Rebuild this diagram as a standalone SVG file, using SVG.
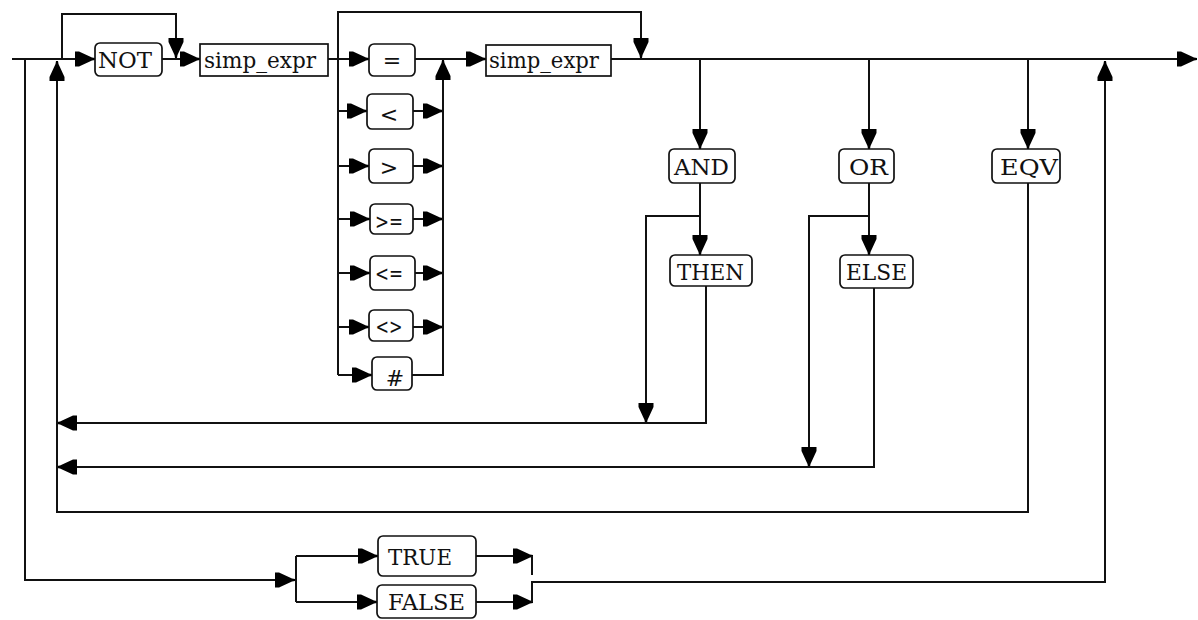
<svg xmlns="http://www.w3.org/2000/svg" width="1198" height="620" viewBox="0 0 1198 620">
<style>
.ln{fill:none;stroke:#111;stroke-width:2}
.bx{fill:#fff;stroke:#111;stroke-width:1.7}
.t{font-family:"DejaVu Serif","Liberation Serif",serif;font-size:23px;fill:#111}
.op{font-family:"DejaVu Sans","Liberation Sans",sans-serif;font-size:22px;fill:#111;text-anchor:middle}
</style>
<defs>
<marker id="ar" markerUnits="userSpaceOnUse" markerWidth="24" markerHeight="18" viewBox="-22 -9 24 18" refX="0" refY="0" orient="auto">
<path d="M-20,-7.5 H-16 L-3,-1.5 L0,-1 V1 L-3,1.5 L-16,7.5 H-20 Z" fill="#000"/>
</marker>
</defs>
<rect width="1198" height="620" fill="#fff"/>
<g id="connectors">
<path class="ln" d="M12,59 H95" marker-end="url(#ar)"/>
<path class="ln" d="M62,59 V14 H176 V58" marker-end="url(#ar)"/>
<path class="ln" d="M162,59 H200" marker-end="url(#ar)"/>
<path class="ln" d="M328,59 H369" marker-end="url(#ar)"/>
<path class="ln" d="M338,375 V12 H641 V58" marker-end="url(#ar)"/>
<path class="ln" d="M338,111 H367" marker-end="url(#ar)"/>
<path class="ln" d="M413,111 H443" marker-end="url(#ar)"/>
<path class="ln" d="M338,166 H369" marker-end="url(#ar)"/>
<path class="ln" d="M413,166 H443" marker-end="url(#ar)"/>
<path class="ln" d="M338,219 H370" marker-end="url(#ar)"/>
<path class="ln" d="M413,219 H443" marker-end="url(#ar)"/>
<path class="ln" d="M338,273 H370" marker-end="url(#ar)"/>
<path class="ln" d="M415,273 H443" marker-end="url(#ar)"/>
<path class="ln" d="M338,327 H369" marker-end="url(#ar)"/>
<path class="ln" d="M413,327 H443" marker-end="url(#ar)"/>
<path class="ln" d="M338,375 H372" marker-end="url(#ar)"/>
<path class="ln" d="M412,375 H443 V60" marker-end="url(#ar)"/>
<path class="ln" d="M415,59 H486" marker-end="url(#ar)"/>
<path class="ln" d="M611,59 H1197" marker-end="url(#ar)"/>
<path class="ln" d="M700,59 V149" marker-end="url(#ar)"/>
<path class="ln" d="M700,183 V255" marker-end="url(#ar)"/>
<path class="ln" d="M700,216 H646 V423" marker-end="url(#ar)"/>
<path class="ln" d="M706,285 V423 H57" marker-end="url(#ar)"/>
<path class="ln" d="M869,59 V149" marker-end="url(#ar)"/>
<path class="ln" d="M869,183 V255" marker-end="url(#ar)"/>
<path class="ln" d="M869,216 H809 V467" marker-end="url(#ar)"/>
<path class="ln" d="M874,288 V467 H57" marker-end="url(#ar)"/>
<path class="ln" d="M1028,59 V149" marker-end="url(#ar)"/>
<path class="ln" d="M1028,183 V512 H57 V61" marker-end="url(#ar)"/>
<path class="ln" d="M25,59 V580 H295" marker-end="url(#ar)"/>
<path class="ln" d="M296,556 V602"/>
<path class="ln" d="M296,556 H378" marker-end="url(#ar)"/>
<path class="ln" d="M296,602 H377" marker-end="url(#ar)"/>
<path class="ln" d="M476,556 H533" marker-end="url(#ar)"/>
<path class="ln" d="M532,556 V575"/>
<path class="ln" d="M476,602 H533" marker-end="url(#ar)"/>
<path class="ln" d="M532,602 V582 H1105 V61" marker-end="url(#ar)"/>
</g>
<g id="n-not"><rect class="bx" x="95" y="43" width="67" height="33" rx="5"/><text class="t" x="98" y="68" textLength="54" lengthAdjust="spacingAndGlyphs">NOT</text></g>
<g id="n-simp1"><rect class="bx" x="200" y="44" width="128" height="32"/><text class="t" x="204" y="68" textLength="112" lengthAdjust="spacingAndGlyphs">simp_expr</text></g>
<g id="n-eq"><rect class="bx" x="369" y="44" width="46" height="32" rx="5"/><text class="op" x="392" y="68">=</text></g>
<g id="n-lt"><rect class="bx" x="367" y="94" width="46" height="35" rx="5"/><text class="op" x="389" y="122">&lt;</text></g>
<g id="n-gt"><rect class="bx" x="369" y="149" width="44" height="34" rx="5"/><text class="op" x="389" y="175">&gt;</text></g>
<g id="n-ge"><rect class="bx" x="370" y="204" width="43" height="30" rx="5"/><text class="op" x="389" y="229" textLength="28" lengthAdjust="spacingAndGlyphs">&gt;=</text></g>
<g id="n-le"><rect class="bx" x="370" y="256" width="45" height="34" rx="5"/><text class="op" x="389" y="281" textLength="28" lengthAdjust="spacingAndGlyphs">&lt;=</text></g>
<g id="n-ne"><rect class="bx" x="369" y="310" width="44" height="31" rx="5"/><text class="op" x="389" y="334" textLength="27" lengthAdjust="spacingAndGlyphs">&lt;&gt;</text></g>
<g id="n-hash"><rect class="bx" x="372" y="357" width="40" height="33" rx="5"/><text class="op" x="395" y="386">#</text></g>
<g id="n-simp2"><rect class="bx" x="486" y="45" width="125" height="31"/><text class="t" x="489" y="68" textLength="110" lengthAdjust="spacingAndGlyphs">simp_expr</text></g>
<g id="n-and"><rect class="bx" x="669" y="149" width="66" height="34" rx="5"/><text class="t" x="674" y="175" textLength="55" lengthAdjust="spacingAndGlyphs">AND</text></g>
<g id="n-then"><rect class="bx" x="670" y="255" width="82" height="31" rx="5"/><text class="t" x="677" y="280" textLength="67" lengthAdjust="spacingAndGlyphs">THEN</text></g>
<g id="n-or"><rect class="bx" x="839" y="149" width="55" height="34" rx="5"/><text class="t" x="849" y="175" textLength="39" lengthAdjust="spacingAndGlyphs">OR</text></g>
<g id="n-else"><rect class="bx" x="840" y="255" width="73" height="33" rx="5"/><text class="t" x="846" y="280" textLength="61" lengthAdjust="spacingAndGlyphs">ELSE</text></g>
<g id="n-eqv"><rect class="bx" x="992" y="149" width="68" height="34" rx="5"/><text class="t" x="1000" y="175" textLength="58" lengthAdjust="spacingAndGlyphs">EQV</text></g>
<g id="n-true"><rect class="bx" x="378" y="536" width="98" height="40" rx="5"/><text class="t" x="388" y="565" textLength="64" lengthAdjust="spacingAndGlyphs">TRUE</text></g>
<g id="n-false"><rect class="bx" x="377" y="585" width="99" height="33" rx="5"/><text class="t" x="388" y="610" textLength="77" lengthAdjust="spacingAndGlyphs">FALSE</text></g>
</svg>
